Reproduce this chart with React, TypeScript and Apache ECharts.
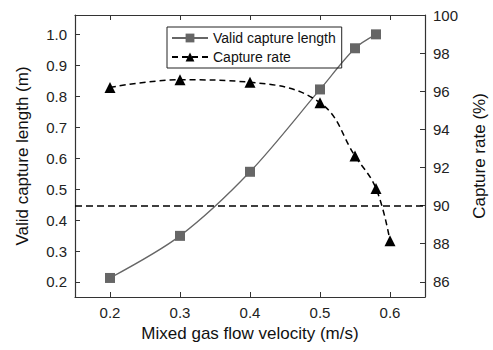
import React, { useEffect, useRef } from "react";
import * as echarts from "echarts";

const lengthX = [0.2, 0.3, 0.4, 0.5, 0.55, 0.58];
const lengthY = [0.213, 0.349, 0.556, 0.822, 0.955, 1.0];
const rateX = [0.2, 0.3, 0.4, 0.5, 0.55, 0.58, 0.6];
const rateY = [96.2, 96.6, 96.47, 95.4, 92.6, 90.9, 88.15];
const xTicks = [0.2, 0.3, 0.4, 0.5, 0.6];
const leftTicks = [0.2, 0.3, 0.4, 0.5, 0.6, 0.7, 0.8, 0.9, 1.0];
const rightTicks = [86, 88, 90, 92, 94, 96, 98, 100];
const refRate = 90;

const FONT = "Liberation Sans";
const AX = "#333";

export default function App() {
  const ref = useRef<HTMLDivElement>(null);
  useEffect(() => {
    document.body.style.margin = "0";
    const chart = echarts.init(ref.current!, null, { renderer: "svg" });
    const axisCommon = {
      axisLine: { show: true, onZero: false, lineStyle: { color: AX, width: 1.2 } },
      splitLine: { show: false },
    };
    chart.setOption({
      animation: false,
      textStyle: { fontFamily: FONT },
      grid: { left: 75, right: 68, top: 15, bottom: 53, outerBoundsMode: "none" },
      legend: {
        left: 167,
        top: 27,
        orient: "vertical",
        borderColor: "#222",
        borderWidth: 1,
        borderRadius: 0,
        padding: [4, 6, 4, 4],
        itemGap: 5,
        itemWidth: 36,
        itemHeight: 11,
        textStyle: { fontSize: 14, color: "#111", fontFamily: FONT },
        data: ["Valid capture length", "Capture rate"],
      },
      xAxis: [
        {
          type: "value",
          min: 0.15,
          max: 0.65,
          position: "bottom",
          name: "Mixed gas flow velocity (m/s)",
          nameLocation: "middle",
          nameGap: 28,
          nameTextStyle: { fontSize: 17, color: "#111", fontFamily: FONT },
          ...axisCommon,
          axisTick: { inside: true, length: 5, customValues: xTicks, lineStyle: { color: AX } },
          axisLabel: {
            customValues: xTicks,
            formatter: (v: number) => v.toFixed(1),
            fontSize: 15,
            color: "#222",
            margin: 8,
          },
        },
        {
          type: "value",
          min: 0.15,
          max: 0.65,
          position: "top",
          ...axisCommon,
          axisTick: { inside: true, length: 5, customValues: xTicks, lineStyle: { color: AX } },
          axisLabel: { show: false },
        },
      ],
      yAxis: [
        {
          type: "value",
          min: 0.1515,
          max: 1.0625,
          position: "left",
          name: "Valid capture length (m)",
          nameLocation: "middle",
          nameRotate: 90,
          nameGap: 44,
          nameTextStyle: { fontSize: 17, color: "#111", fontFamily: FONT },
          ...axisCommon,
          axisTick: { inside: true, length: 5, customValues: leftTicks, lineStyle: { color: AX } },
          axisLabel: {
            customValues: leftTicks,
            formatter: (v: number) => v.toFixed(1),
            fontSize: 15,
            color: "#222",
            margin: 8,
          },
        },
        {
          type: "value",
          min: 85.2,
          max: 100,
          position: "right",
          name: "Capture rate (%)",
          nameLocation: "middle",
          nameRotate: 90,
          nameGap: 46,
          nameTextStyle: { fontSize: 17, color: "#111", fontFamily: FONT },
          ...axisCommon,
          axisTick: { inside: true, length: 5, customValues: rightTicks, lineStyle: { color: AX } },
          axisLabel: {
            customValues: rightTicks,
            fontSize: 15,
            color: "#222",
            margin: 8,
          },
        },
      ],
      series: [
        {
          name: "Valid capture length",
          type: "line",
          xAxisIndex: 0,
          yAxisIndex: 0,
          smooth: 0.3,
          data: lengthX.map((x, i) => [x, lengthY[i]]),
          symbol: "rect",
          symbolSize: 10,
          itemStyle: { color: "#666" },
          lineStyle: { color: "#666", width: 1.3 },
        },
        {
          name: "Capture rate",
          type: "line",
          xAxisIndex: 0,
          yAxisIndex: 1,
          smooth: 0.4,
          data: rateX.map((x, i) => [x, rateY[i]]),
          symbol: "triangle",
          symbolSize: 11,
          itemStyle: { color: "#000" },
          lineStyle: { color: "#000", width: 1.5, type: [6, 4] },
          markLine: {
            silent: true,
            symbol: "none",
            label: { show: false },
            lineStyle: { color: "#000", width: 1.5, type: [7, 4] },
            data: [{ yAxis: refRate }],
          },
        },
      ],
    });
    return () => chart.dispose();
  }, []);
  return <div ref={ref} style={{ width: 493, height: 350 }} />;
}
